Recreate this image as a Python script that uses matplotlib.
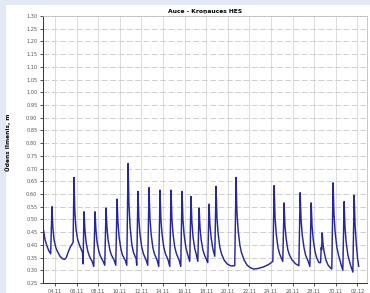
import matplotlib
matplotlib.use("Agg")
import matplotlib.pyplot as plt
import matplotlib.dates as mdates
from matplotlib.patches import Rectangle
import numpy as np
import pandas as pd

# water level readings: time as day of November (32 = 2 Dec), level in m
days = [
    2.89, 3.08, 3.26, 3.45, 3.60,
    3.72, 3.80, 3.91, 4.07, 4.22, 4.47, 4.70, 4.90, 5.05, 5.21, 5.40, 5.58, 5.68,
    5.76, 5.84, 5.95, 6.11, 6.26, 6.45, 6.55, 6.60,
    6.69, 6.77, 6.88, 7.04, 7.19, 7.44, 7.59,
    7.71, 7.79, 7.90, 8.06, 8.21, 8.46, 8.61,
    8.73, 8.81, 8.92, 9.08, 9.23, 9.48, 9.63,
    9.75, 9.83, 9.94, 10.10, 10.25, 10.50, 10.65,
    10.77, 10.85, 10.96, 11.12, 11.27, 11.52, 11.57,
    11.69, 11.77, 11.88, 12.04, 12.19, 12.44, 12.59,
    12.71, 12.79, 12.90, 13.06, 13.21, 13.46, 13.61,
    13.73, 13.81, 13.92, 14.08, 14.23, 14.48, 14.63,
    14.75, 14.83, 14.94, 15.10, 15.25, 15.50, 15.65,
    15.77, 15.85, 15.96, 16.12, 16.27, 16.48,
    16.60, 16.68, 16.79, 16.95, 17.10, 17.23,
    17.35, 17.43, 17.54, 17.70, 17.85, 18.05, 18.15,
    18.27, 18.35, 18.46, 18.62, 18.80,
    18.92, 19.00, 19.11, 19.27, 19.42, 19.67, 19.95, 20.30, 20.65,
    20.77, 20.85, 20.96, 21.12, 21.27, 21.52, 21.80, 22.10, 22.40, 22.80, 23.30, 23.80, 24.18,
    24.30, 24.38, 24.49, 24.65, 24.80, 25.00, 25.10,
    25.22, 25.30, 25.41, 25.57, 25.72, 25.97, 26.30, 26.59,
    26.71, 26.79, 26.90, 27.06, 27.21, 27.46, 27.61,
    27.73, 27.81, 27.92, 28.08, 28.23, 28.45, 28.60, 28.66, 28.70,
    28.75, 28.83, 28.94, 29.10, 29.30, 29.50, 29.64,
    29.76, 29.84, 29.95, 30.11, 30.26, 30.45, 30.66,
    30.78, 30.86, 30.97, 31.13, 31.28, 31.45, 31.59,
    31.71, 31.79, 31.90, 32.02, 32.13,
]
level = [
    0.470, 0.420, 0.395, 0.375, 0.365,
    0.550, 0.470, 0.420, 0.390, 0.375, 0.355, 0.345, 0.343, 0.350, 0.370, 0.390, 0.403, 0.410,
    0.665, 0.530, 0.460, 0.420, 0.400, 0.380, 0.370, 0.325,
    0.530, 0.460, 0.410, 0.375, 0.355, 0.335, 0.315,
    0.530, 0.460, 0.410, 0.375, 0.355, 0.335, 0.320,
    0.545, 0.470, 0.420, 0.380, 0.360, 0.340, 0.320,
    0.580, 0.490, 0.430, 0.385, 0.360, 0.340, 0.320,
    0.720, 0.560, 0.470, 0.400, 0.370, 0.345, 0.320,
    0.610, 0.500, 0.440, 0.390, 0.365, 0.340, 0.320,
    0.625, 0.510, 0.445, 0.390, 0.365, 0.340, 0.315,
    0.615, 0.500, 0.440, 0.390, 0.365, 0.340, 0.315,
    0.615, 0.500, 0.440, 0.390, 0.365, 0.340, 0.315,
    0.610, 0.500, 0.440, 0.390, 0.365, 0.335,
    0.590, 0.490, 0.430, 0.385, 0.360, 0.335,
    0.545, 0.470, 0.420, 0.380, 0.360, 0.340, 0.330,
    0.560, 0.480, 0.430, 0.385, 0.355,
    0.630, 0.510, 0.445, 0.390, 0.365, 0.340, 0.325, 0.317, 0.318,
    0.665, 0.530, 0.460, 0.400, 0.370, 0.340, 0.320, 0.310, 0.305, 0.307, 0.313, 0.323, 0.335,
    0.633, 0.510, 0.445, 0.390, 0.365, 0.345, 0.335,
    0.565, 0.475, 0.425, 0.380, 0.360, 0.340, 0.325, 0.318,
    0.605, 0.500, 0.440, 0.390, 0.360, 0.335, 0.315,
    0.565, 0.475, 0.420, 0.375, 0.350, 0.330, 0.330, 0.390, 0.380,
    0.447, 0.400, 0.370, 0.340, 0.320, 0.310, 0.305,
    0.644, 0.520, 0.450, 0.390, 0.360, 0.330, 0.300,
    0.570, 0.470, 0.410, 0.360, 0.335, 0.310, 0.293,
    0.595, 0.480, 0.410, 0.350, 0.316,
]
tick_days = [4, 6, 8, 10, 12, 14, 16, 18, 20, 22, 24, 26, 28, 30, 32]
y_ticks = np.round(np.arange(0.25, 1.301, 0.05), 2)

title = "Auce - Kroņauces HES"
ylabel = "Ūdens līmenis, m"


def to_time(d):
    return pd.Timestamp("2013-11-01") + pd.to_timedelta(np.asarray(d, dtype=float) - 1, unit="D")


fig = plt.figure(figsize=(3.7, 2.93), dpi=100)
fig.patch.set_facecolor("#e2e9f4")
fig.add_artist(Rectangle((6 / 370, 0), 1, 288 / 293, transform=fig.transFigure,
                         facecolor="white", edgecolor="none", zorder=-1))

ax = fig.add_axes([43 / 370, 10 / 293, 324 / 370, 267 / 293])
ax.plot(to_time(days), level, color="#2626a0", lw=1.05)

ax.set_ylim(0.25, 1.30)
ax.set_yticks(y_ticks)
ax.set_yticklabels([f"{t:.2f}" for t in y_ticks])
ax.set_xlim(to_time([2.89, 32.9]))
ax.set_xticks(to_time(tick_days))
ax.xaxis.set_major_formatter(mdates.DateFormatter("%d.%m"))

ax.tick_params(labelsize=3.6, labelcolor="#555555", length=2.5, width=0.6,
               color="#333333", pad=1.5)
ax.yaxis.grid(True, color="#c8c8c8", lw=0.6, linestyle=(0, (7, 3)))
ax.xaxis.grid(True, color="#d6d6d6", lw=0.6)
ax.set_axisbelow(True)
for s in ["left", "bottom"]:
    ax.spines[s].set_color("#333333")
    ax.spines[s].set_linewidth(0.7)
for s in ["top", "right"]:
    ax.spines[s].set_color("#c0c0c0")
    ax.spines[s].set_linewidth(0.6)

ax.set_title(title, fontsize=4.3, fontweight="bold", pad=2)
fig.text(8 / 370, 1 - 142 / 293, ylabel, rotation=90, fontsize=4.2,
         fontweight="bold", ha="center", va="center")

fig.savefig("out.png", dpi=100, facecolor=fig.get_facecolor())
